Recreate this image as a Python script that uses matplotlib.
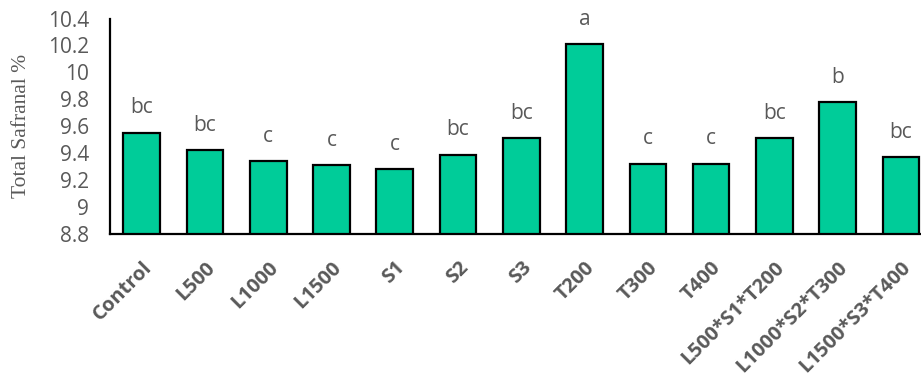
import matplotlib
matplotlib.use("Agg")
import matplotlib.pyplot as plt
from matplotlib.transforms import ScaledTranslation

treatments = ["Control", "L500", "L1000", "L1500", "S1", "S2", "S3", "T200",
              "T300", "T400", "L500*S1*T200", "L1000*S2*T300", "L1500*S3*T400"]
safranal = [9.55, 9.42, 9.34, 9.31, 9.28, 9.39, 9.51, 10.21,
            9.32, 9.32, 9.51, 9.78, 9.37]
groups = ["bc", "bc", "c", "c", "c", "bc", "bc", "a",
          "c", "c", "bc", "b", "bc"]

TEXT_GRAY = "#595959"
BAR_GREEN = "#00CC99"

fig = plt.figure(figsize=(9.21, 3.83), dpi=100)
ax = fig.add_axes([110 / 921, 1 - 234 / 383, (932.6 - 110) / 921, (234 - 18.5) / 383])

x = range(len(treatments))
ax.bar(x, [v - 8.8 for v in safranal], bottom=8.8, width=0.58,
       color=BAR_GREEN, edgecolor="black", linewidth=1.6, zorder=3)

# significance letters above each bar
for i, (v, g) in enumerate(zip(safranal, groups)):
    ax.annotate(g, xy=(i, v), xytext=(0, 18), textcoords="offset points",
                ha="center", va="center", fontsize=15, color=TEXT_GRAY,
                family="Open Sans")

ax.set_xlim(-0.5, len(treatments) - 0.5)
ax.set_ylim(8.8, 10.4)
ax.set_yticks([8.8, 9.0, 9.2, 9.4, 9.6, 9.8, 10.0, 10.2, 10.4])
ax.set_yticklabels(["8.8", "9", "9.2", "9.4", "9.6", "9.8", "10", "10.2", "10.4"])
ax.set_xticks(list(x))
ax.set_xticklabels(treatments, rotation=45, ha="right", rotation_mode="anchor",
                   fontweight="bold", family="Open Sans", fontsize=14.5,
                   color=TEXT_GRAY)
shift = ScaledTranslation(-5 / 100, 0, fig.dpi_scale_trans)
for lab in ax.get_xticklabels():
    lab.set_transform(lab.get_transform() + shift)
for lab in ax.get_yticklabels():
    lab.set_family("Open Sans")
    lab.set_fontsize(15)
    lab.set_color(TEXT_GRAY)
ax.tick_params(axis="both", length=0)
ax.tick_params(axis="y", pad=15)
ax.tick_params(axis="x", pad=17)

for side in ["top", "right"]:
    ax.spines[side].set_visible(False)
for side in ["left", "bottom"]:
    ax.spines[side].set_color("black")
    ax.spines[side].set_linewidth(1.6)

ax.set_ylabel("Total Safranal %", family="Liberation Serif", fontsize=15.5,
              color=TEXT_GRAY, labelpad=12)

fig.savefig("out.png", dpi=100)
